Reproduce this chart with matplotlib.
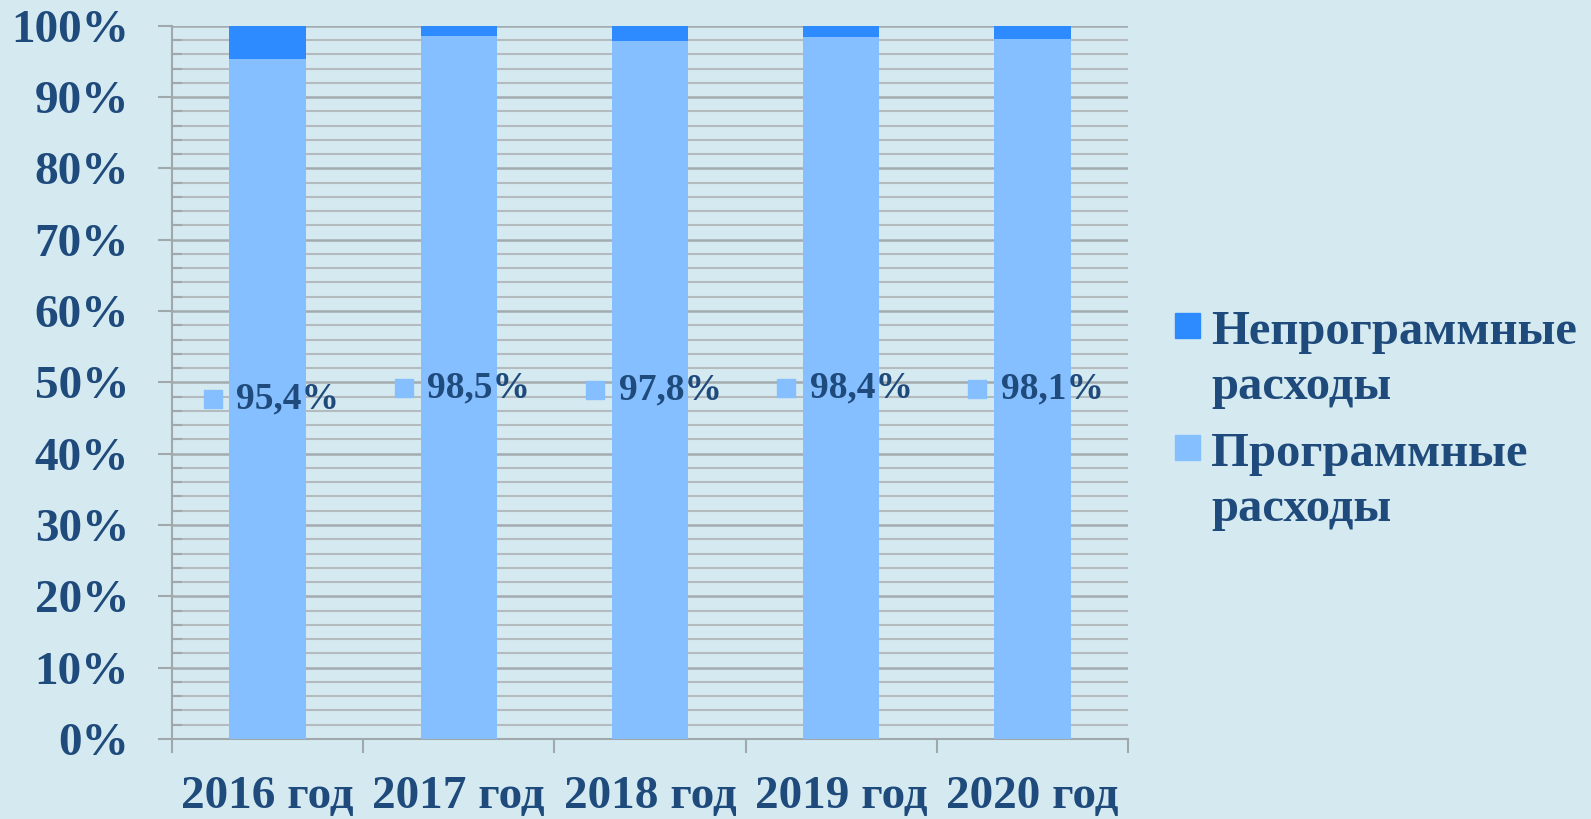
import matplotlib
matplotlib.use('Agg')
import matplotlib.pyplot as plt
from matplotlib.patches import Rectangle
from matplotlib.ticker import MultipleLocator, FixedLocator, FuncFormatter

# data (percent of total expenses)
years = ['2016 год', '2017 год', '2018 год', '2019 год', '2020 год']
program = [95.4, 98.5, 97.8, 98.4, 98.1]
non_program = [100 - v for v in program]
value_labels = ['95,4%', '98,5%', '97,8%', '98,4%', '98,1%']
legend_labels = ['Непрограммные\nрасходы', 'Программные\nрасходы']

bg = '#d5eaf0'
c_prog = '#85bfff'
c_nonprog = '#2e8bff'
txt = '#1f4a7c'
grid_c = '#b3bbbf'

plt.rcParams['font.family'] = ['Liberation Serif', 'DejaVu Serif']
plt.rcParams['font.weight'] = 'bold'

fig = plt.figure(figsize=(15.91, 8.19), dpi=100)
fig.set_facecolor(bg)
ax = fig.add_axes([0.1081, 0.0977, 0.6009, 0.8709])
ax.set_facecolor(bg)

x = list(range(len(years)))
ax.bar(x, program, width=0.4, color=c_prog, zorder=3)
ax.bar(x, non_program, bottom=program, width=0.4, color=c_nonprog, zorder=3)

ax.set_xlim(-0.5, len(years) - 0.5)
ax.set_ylim(0, 100)

# gridlines: major every 10%, minor every 2%
ax.yaxis.set_major_locator(MultipleLocator(10))
ax.yaxis.set_minor_locator(MultipleLocator(2))
ax.yaxis.set_major_formatter(FuncFormatter(lambda v, p: f'{int(v)}%'))
ax.grid(axis='y', which='major', color='#a3abaf', lw=1.8, zorder=0)
ax.grid(axis='y', which='minor', color=grid_c, lw=1.5, zorder=0)
ax.tick_params(axis='y', which='major', direction='out', length=10, width=1.5,
               color='#a0a8ac', pad=21, labelsize=34, labelcolor=txt)
ax.tick_params(axis='y', which='minor', direction='in', length=7, width=1.5, color='#a0a8ac')

# x: tick marks at category boundaries, labels at centres
ax.xaxis.set_major_locator(FixedLocator([i + 0.5 for i in range(-1, len(years))]))
ax.xaxis.set_major_formatter(FuncFormatter(lambda v, p: ''))
ax.xaxis.set_minor_locator(FixedLocator(x))
ax.set_xticklabels(years, minor=True)
ax.tick_params(axis='x', which='major', direction='out', length=10, width=1.5, color='#a0a8ac')
ax.tick_params(axis='x', which='minor', length=0, pad=27, labelsize=34, labelcolor=txt)

for s in ['top', 'right']:
    ax.spines[s].set_visible(False)
for s in ['left', 'bottom']:
    ax.spines[s].set_color('#a0a8ac')
    ax.spines[s].set_linewidth(1.5)

# data labels with legend key in the middle of the programme segment
shift = matplotlib.transforms.ScaledTranslation(-55 / 100, 0, fig.dpi_scale_trans)
for i, v in enumerate(program):
    ax.scatter([i], [v / 2], marker='s', s=150, color=c_prog, zorder=5,
               transform=ax.transData + shift)
    ax.annotate(value_labels[i], (i, v / 2), xytext=(20, 0), textcoords='offset pixels',
                ha='center', va='center', fontsize=27, color=txt, zorder=6)

# legend on the right (baseline = last line of each label)
W, H = 1591, 819
sq_top = [313, 435]
base = [399, 521]
for lab, col, t, b in zip(legend_labels, [c_nonprog, c_prog], sq_top, base):
    fig.patches.append(Rectangle((1175 / W, 1 - (t + 25) / H), 25 / W, 25 / H,
                                 transform=fig.transFigure, color=col, figure=fig))
    fig.text(1211 / W, 1 - b / H, lab, ha='left', va='baseline', fontsize=35,
             color=txt, linespacing=1.33)

fig.savefig('out.png', dpi=100, facecolor=bg)
